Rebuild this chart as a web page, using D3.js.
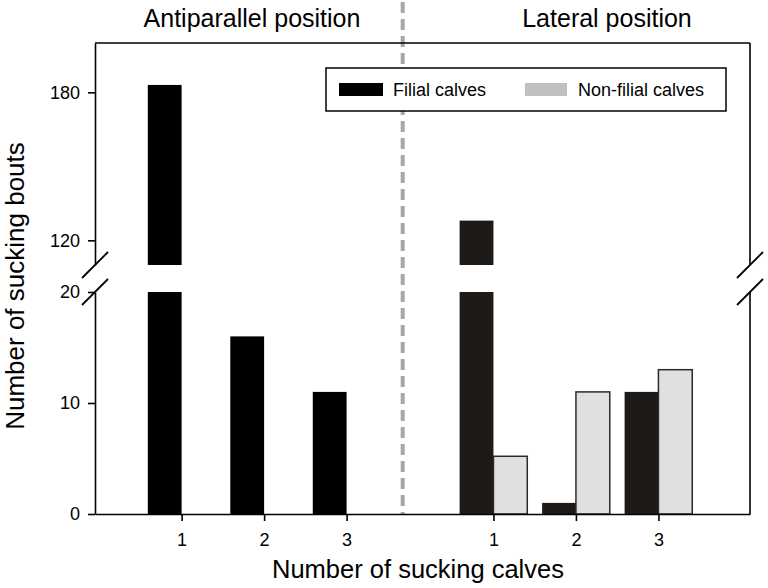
<!DOCTYPE html>
<html>
<head>
<meta charset="utf-8">
<script src="https://cdn.jsdelivr.net/npm/d3@7/dist/d3.min.js"></script>
<style>
  html, body { margin: 0; padding: 0; background: #fff; }
  svg { display: block; font-family: "Liberation Sans", Arial, Helvetica, sans-serif; }
</style>
</head>
<body>
<svg id="chart" width="768" height="588"></svg>
<script>
// ---- data ----
const categories = ["1", "2", "3"];
const panels = ["Antiparallel position", "Lateral position"];
const antiparallelFilial = [183, 16, 11];
const lateralFilial = [128, 1, 11];
const lateralNonFilial = [5.2, 11, 13];
const legendLabels = ["Filial calves", "Non-filial calves"];
const lowTicks = [0, 10, 20];
const highTicks = [120, 180];
const lowDomain = [0, 20];
const highDomain = [110, 200];
// slot positions of category groups (in category units)
const antiparallelSlots = [1, 2, 3];
const lateralSlots = [4.78, 5.78, 6.78];
const dividerSlot = 3.68;

// ---- layout ----
const svg = d3.select("#chart");
const plotLeft = 95, plotRight = 750, plotTop = 43, plotBottom = 514;
const lowTop = 292, highBottom = 265;

const x = d3.scaleLinear().domain([-0.05, 7.89]).range([plotLeft, plotRight]);
const yLow = d3.scaleLinear().domain(lowDomain).range([plotBottom, lowTop]);
const yHigh = d3.scaleLinear().domain(highDomain).range([highBottom, plotTop]);
const barW = x(0.41) - x(0);

const colFilialA = "#000000";
const colFilialL = "#1e1a17";
const colNon = "#e0e0e0";
const colNonLegend = "#c0c0c0";

// dashed divider
svg.append("line")
  .attr("x1", x(dividerSlot)).attr("x2", x(dividerSlot))
  .attr("y1", 2).attr("y2", plotBottom)
  .attr("stroke", "#a6a6a6").attr("stroke-width", 4)
  .attr("stroke-dasharray", "11,6");

// bars
function drawBar(xStart, value, fill, stroke) {
  const g = svg.append("g");
  const lowVal = Math.min(value, lowDomain[1]);
  const r = g.append("rect")
    .attr("x", xStart).attr("width", barW)
    .attr("y", yLow(lowVal)).attr("height", yLow(0) - yLow(lowVal))
    .attr("fill", fill);
  if (stroke) r.attr("stroke", stroke).attr("stroke-width", 1.5);
  if (value > lowDomain[1]) {
    const r2 = g.append("rect")
      .attr("x", xStart).attr("width", barW)
      .attr("y", yHigh(value)).attr("height", yHigh(highDomain[0]) - yHigh(value))
      .attr("fill", fill);
    if (stroke) r2.attr("stroke", stroke).attr("stroke-width", 1.5);
  }
}

antiparallelFilial.forEach((v, i) => drawBar(x(antiparallelSlots[i]) - barW, v, colFilialA, null));
lateralFilial.forEach((v, i) => drawBar(x(lateralSlots[i]) - barW, v, colFilialL, null));
lateralNonFilial.forEach((v, i) => drawBar(x(lateralSlots[i]), v, colNon, "#2a2a2a"));

// axes
const axisStyle = g => {
  g.selectAll("path, line").attr("stroke", "#000").attr("stroke-width", 1.6);
  g.selectAll("text").attr("font-size", 18).attr("fill", "#000")
    .attr("font-family", "'Liberation Sans', Arial, sans-serif");
};

svg.append("g").attr("transform", `translate(${plotLeft},0)`)
  .call(d3.axisLeft(yLow).tickValues(lowTicks).tickSize(7).tickSizeOuter(0).tickPadding(8))
  .call(axisStyle);
svg.append("g").attr("transform", `translate(${plotLeft},0)`)
  .call(d3.axisLeft(yHigh).tickValues(highTicks).tickSize(7).tickSizeOuter(0).tickPadding(8))
  .call(axisStyle);

const allSlots = antiparallelSlots.concat(lateralSlots);
const allLabels = categories.concat(categories);
svg.append("g").attr("transform", `translate(0,${plotBottom})`)
  .call(d3.axisBottom(x).tickValues(allSlots).tickFormat((d, i) => allLabels[i])
    .tickSize(7).tickSizeOuter(0).tickPadding(12))
  .call(axisStyle);

// frame: top and right
svg.append("line").attr("x1", plotLeft).attr("x2", plotRight).attr("y1", plotTop).attr("y2", plotTop)
  .attr("stroke", "#000").attr("stroke-width", 1.6);
[[plotTop, highBottom], [lowTop, plotBottom]].forEach(([a, b]) => {
  svg.append("line").attr("x1", plotRight).attr("x2", plotRight).attr("y1", a).attr("y2", b)
    .attr("stroke", "#000").attr("stroke-width", 1.6);
});

// break marks
[plotLeft, plotRight].forEach(ax => {
  [highBottom, lowTop].forEach(by => {
    svg.append("line")
      .attr("x1", ax - 13).attr("y1", by + 13)
      .attr("x2", ax + 13).attr("y2", by - 13)
      .attr("stroke", "#000").attr("stroke-width", 1.8);
  });
});

// legend
const lg = svg.append("g");
lg.append("rect").attr("x", 326).attr("y", 68).attr("width", 400).attr("height", 43)
  .attr("fill", "#fff").attr("stroke", "#000").attr("stroke-width", 1.5);
lg.append("rect").attr("x", 339).attr("y", 83).attr("width", 44).attr("height", 13).attr("fill", colFilialA);
lg.append("text").attr("x", 393).attr("y", 96).attr("font-size", 18).text(legendLabels[0]);
lg.append("rect").attr("x", 525).attr("y", 83).attr("width", 42).attr("height", 13).attr("fill", colNonLegend);
lg.append("text").attr("x", 578).attr("y", 96).attr("font-size", 18).text(legendLabels[1]);

// panel titles
svg.append("text").attr("x", 252).attr("y", 27).attr("text-anchor", "middle")
  .attr("font-size", 25).text(panels[0]);
svg.append("text").attr("x", 607).attr("y", 27).attr("text-anchor", "middle")
  .attr("font-size", 25).text(panels[1]);

// axis titles
svg.append("text").attr("x", 418).attr("y", 578).attr("text-anchor", "middle")
  .attr("font-size", 25.5).text("Number of sucking calves");
svg.append("text").attr("transform", "translate(24,286) rotate(-90)")
  .attr("text-anchor", "middle").attr("font-size", 26).text("Number of sucking bouts");
</script>
</body>
</html>
